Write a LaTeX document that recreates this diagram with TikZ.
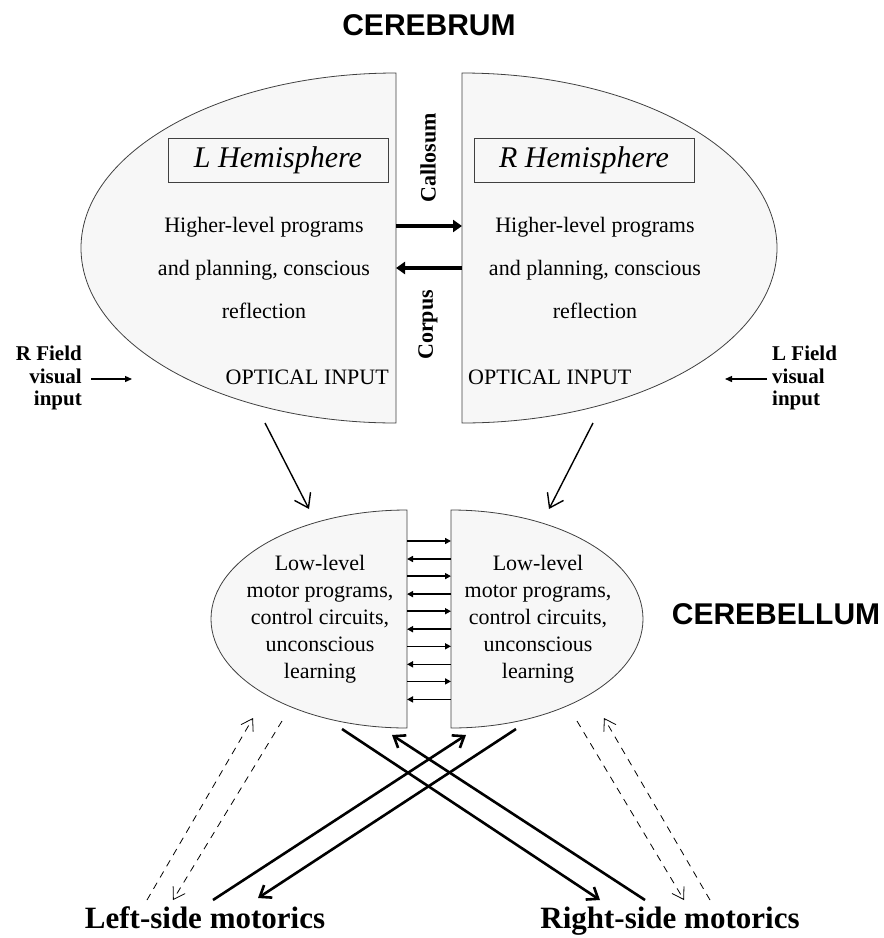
\documentclass[tikz,border=0pt]{standalone}
\usepackage{fontspec}
\setmainfont{Liberation Serif}
\newfontfamily\headfont{Liberation Sans}
\usetikzlibrary{arrows.meta}

\tikzstyle{hB}=[draw=black!75, line width=0.8pt, fill=black!3]
\tikzstyle{tS}=[inner sep=0pt, align=center, font={\fontsize{22}{43}\selectfont}]
\tikzstyle{bS}=[inner sep=0pt, align=center, font={\fontsize{22}{27}\selectfont}]
\tikzstyle{lS}=[draw=black!75, line width=0.8pt, fill=black!3, minimum width=220pt, minimum height=44pt, font={\fontsize{30}{32}\selectfont\itshape}]
\tikzstyle{fS}=[inner sep=0pt, font={\fontsize{21}{22.5}\selectfont\bfseries}]
\tikzstyle{hdS}=[inner sep=0pt, font={\fontsize{30}{32}\selectfont\headfont\bfseries}]
\tikzstyle{mS}=[inner sep=0pt, anchor=base, font={\fontsize{31}{33}\selectfont\bfseries}]
\tikzstyle{eC}=[line width=3.5pt, -{Triangle[length=9pt,width=12pt]}]
\tikzstyle{eL}=[line width=1.5pt, -{Triangle[length=6pt,width=6pt]}]
\tikzstyle{eF}=[line width=1.3pt, -{Triangle[length=7pt,width=6pt]}]
\tikzstyle{eD}=[line width=1.4pt, -{Straight Barb[length=13pt,width=18pt]}]
\tikzstyle{eX}=[line width=2.6pt, -{Straight Barb[length=10pt,width=15pt]}]
\tikzstyle{eCC}=[line width=0.8pt, dash pattern=on 7pt off 6pt, -{Straight Barb[length=11pt,width=14pt]}]

\begin{document}
\begin{tikzpicture}[x=1pt,y=-1pt]
                \useasboundingbox (0,0) rectangle (884,938);
                % cerebrum halves
                \draw[hB] (396,73) arc[start angle=-90, end angle=-270, x radius=315, y radius=175] -- cycle;
                \draw[hB] (462,73) arc[start angle=-90, end angle=90, x radius=315, y radius=175] -- cycle;
                % cerebellum halves
                \draw[hB] (407,510) arc[start angle=-90, end angle=-270, x radius=196, y radius=109] -- cycle;
                \draw[hB] (451,510) arc[start angle=-90, end angle=90, x radius=192, y radius=109] -- cycle;

                \draw (429,25) node[hdS] (cbr) {CEREBRUM};
                \draw (776,614) node[hdS] (cbl) {CEREBELLUM};
                \draw (278,160) node[lS] (lh) {L Hemisphere};
                \draw (584,160) node[lS] (rh) {R Hemisphere};
                \draw (264,268) node[tS] (lt) {Higher-level programs\\and planning, conscious\\reflection};
                \draw (595,268) node[tS] (rt) {Higher-level programs\\and planning, conscious\\reflection};
                \draw (389,377) node[tS,anchor=east] (lo) {OPTICAL INPUT};
                \draw (468,377) node[tS,anchor=west] (ro) {OPTICAL INPUT};
                \draw (428,158) node[tS,rotate=90,font={\fontsize{22}{24}\selectfont\bfseries}] (cal) {Callosum};
                \draw (428,325) node[tS,rotate=90,font={\fontsize{22}{24}\selectfont\bfseries}] (cor) {Corpus};
                \draw (82,378) node[fS,anchor=east,align=right] (rf) {R Field\\visual\\input};
                \draw (772,378) node[fS,anchor=west,align=left] (lf) {L Field\\visual\\input};
                \draw (320,619) node[bS] (lb) {Low-level\\motor programs,\\control circuits,\\unconscious\\learning};
                \draw (538,619) node[bS] (rb) {Low-level\\motor programs,\\control circuits,\\unconscious\\learning};
                \draw (205,928) node[mS] (lm) {Left-side motorics};
                \draw (670,928) node[mS] (rm) {Right-side motorics};

                % free ends
                \coordinate (c1) at (396,226); \coordinate (c2) at (462,226);
                \coordinate (c3) at (462,268); \coordinate (c4) at (396,268);
                \coordinate (f1) at (91,379);  \coordinate (f2) at (132,379);
                \coordinate (f3) at (767,379); \coordinate (f4) at (725,379);
                \coordinate (d1) at (265,423); \coordinate (d2) at (309,509);
                \coordinate (d3) at (593,423); \coordinate (d4) at (549,509);
                \coordinate (x1) at (342,729); \coordinate (x2) at (600,900);
                \coordinate (x3) at (645,900); \coordinate (x4) at (392,735);
                \coordinate (x5) at (516,729); \coordinate (x6) at (258,898);
                \coordinate (x7) at (213,900); \coordinate (x8) at (466,735);
                \coordinate (s1) at (282,721); \coordinate (s2) at (173,900);
                \coordinate (s3) at (147,900); \coordinate (s4) at (253,718);
                \coordinate (s5) at (577,721); \coordinate (s6) at (684,900);
                \coordinate (s7) at (710,900); \coordinate (s8) at (604,718);
                \path
                    (c1) edge[eC] (c2)
                    (c3) edge[eC] (c4)
                    (f1) edge[eF] (f2)
                    (f3) edge[eF] (f4)
                    (d1) edge[eD] (d2)
                    (d3) edge[eD] (d4)
                    (x1) edge[eX] (x2)
                    (x3) edge[eX] (x4)
                    (x5) edge[eX] (x6)
                    (x7) edge[eX] (x8)
                    (s1) edge[eCC] (s2)
                    (s3) edge[eCC] (s4)
                    (s5) edge[eCC] (s6)
                    (s7) edge[eCC] (s8)
                ;
                % ladder between cerebellum halves
                \foreach \i in {0,...,4} {
                    \coordinate (la\i) at (407,541+35.1*\i);
                    \coordinate (lb\i) at (451,541+35.1*\i);
                    \coordinate (ra\i) at (451,559+35.1*\i);
                    \coordinate (rb\i) at (407,559+35.1*\i);
                    \draw[eL] (la\i) -- (lb\i);
                    \draw[eL] (ra\i) -- (rb\i);
                }
        \end{tikzpicture}
\end{document}
